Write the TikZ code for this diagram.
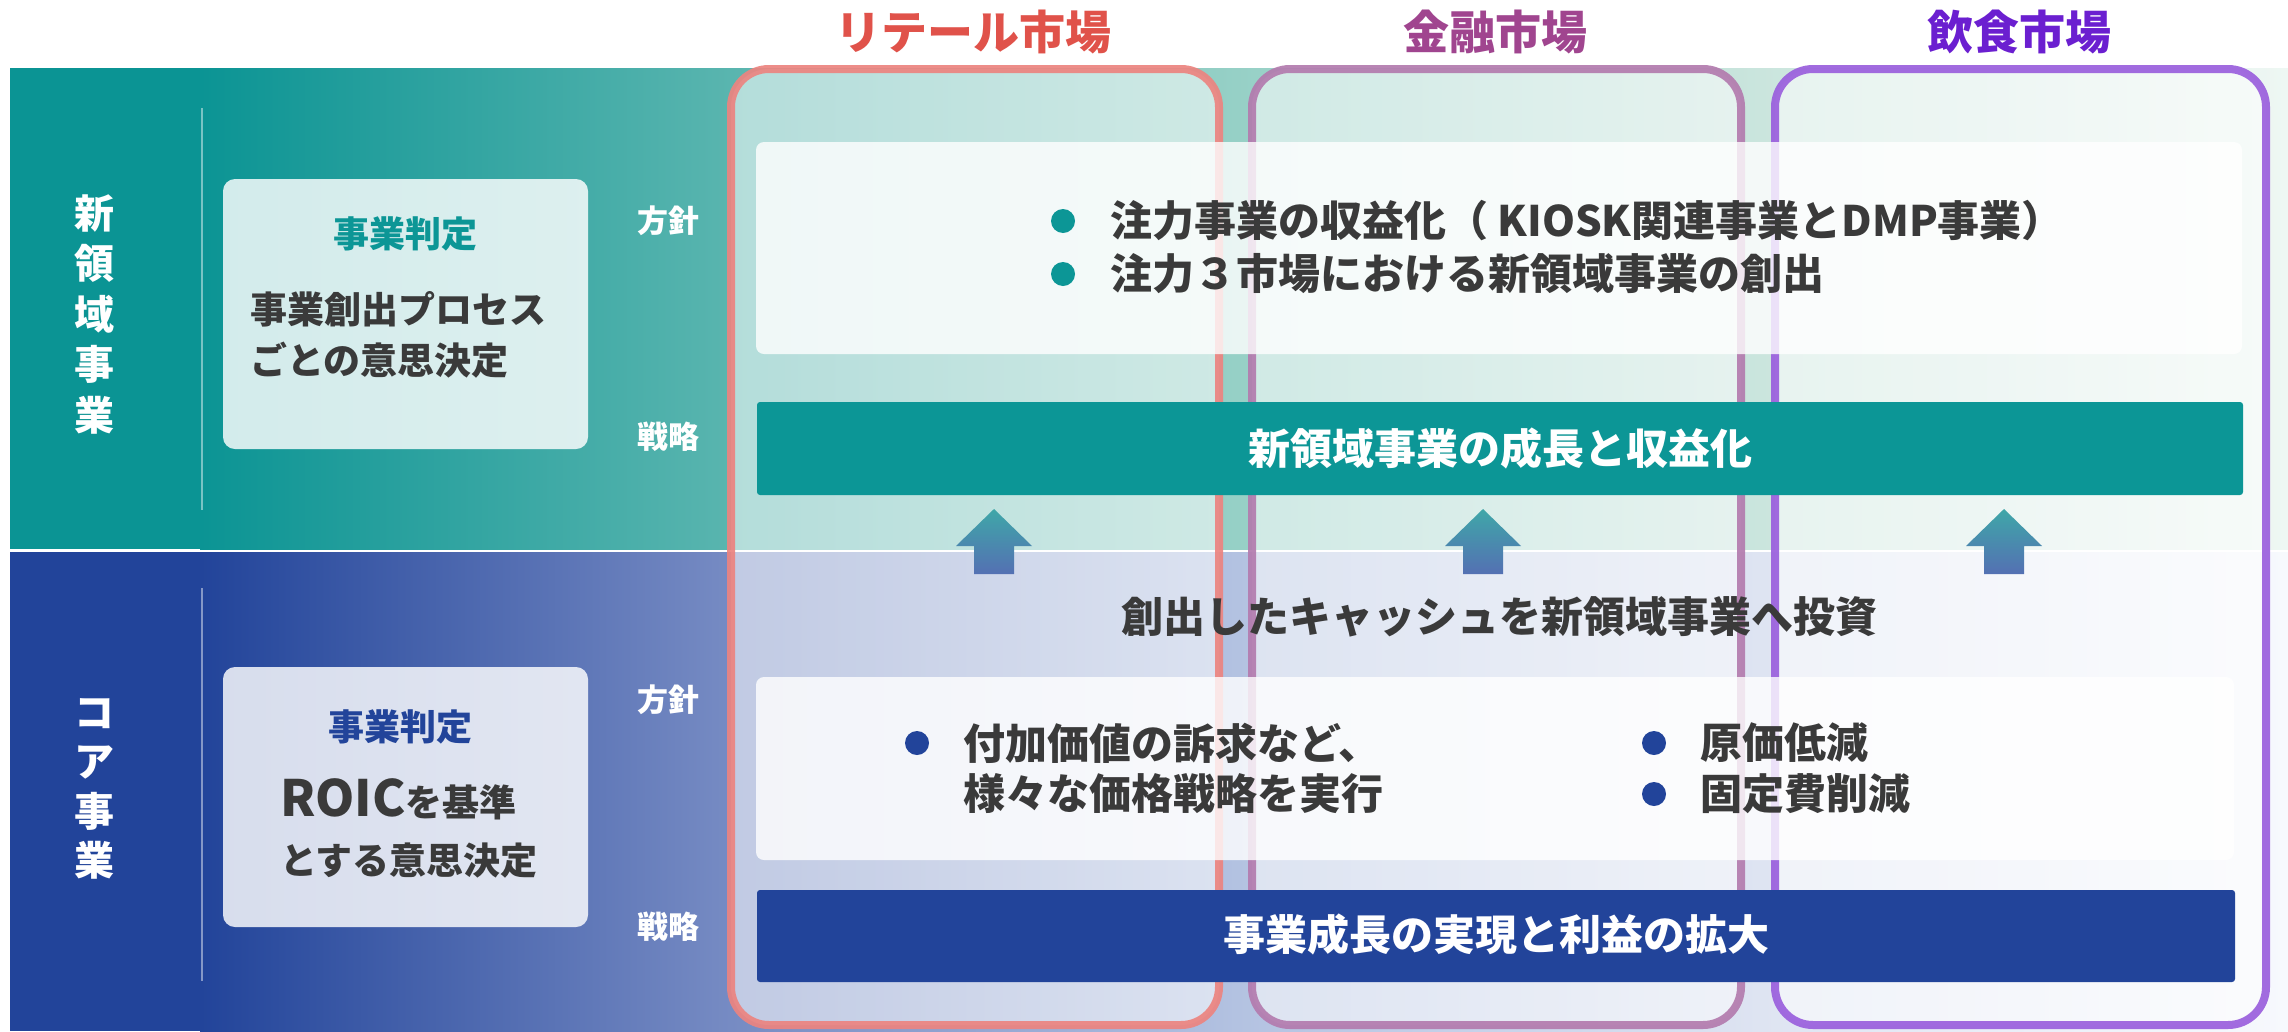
\documentclass[tikz,border=0pt]{standalone}
\usepackage{fontspec}
\setmainfont{Noto Sans CJK JP}
\definecolor{tA}{HTML}{0B9494}
\definecolor{tB}{HTML}{57B4AE}
\definecolor{tC}{HTML}{96D0C6}
\definecolor{tD}{HTML}{CAE5DD}
\definecolor{tE}{HTML}{EEF7F3}
\definecolor{bA}{HTML}{22449A}
\definecolor{bB}{HTML}{7489C2}
\definecolor{bC}{HTML}{B3C2E1}
\definecolor{bD}{HTML}{DEE4F2}
\definecolor{bE}{HTML}{F7F9FD}
\definecolor{tealbar}{HTML}{0C9696}
\definecolor{bluebar}{HTML}{22449A}
\definecolor{txt}{HTML}{3A3A3A}
\definecolor{retailT}{HTML}{E0524A}
\definecolor{retailF}{HTML}{EC8480}
\definecolor{finT}{HTML}{A0458F}
\definecolor{finF}{HTML}{B37BAE}
\definecolor{foodT}{HTML}{6B1FD0}
\definecolor{foodF}{HTML}{9A5FDD}
\definecolor{arrTop}{HTML}{3FA7A8}
\definecolor{arrBot}{HTML}{5470B3}
\newcommand\fsz[2]{\fontsize{#1}{#2}\selectfont}
\begin{document}
\begin{tikzpicture}[x=1pt,y=-1pt,
  every node/.style={inner sep=0pt, outer sep=0pt},
  vtext/.style={text=white, font=\bfseries\fsz{40}{50.5}, align=center},
  rowlabel/.style={text=white, font=\bfseries\fsz{31}{36}},
  decbox/.style={fill=white, fill opacity=0.82, rounded corners=12pt},
  divider/.style={draw=white, draw opacity=0.45, line width=2pt},
  dectitle/.style={font=\bfseries\fsz{36}{40}},
  dectext/.style={text=txt, font=\bfseries\fsz{37}{44}, anchor=west},
  market/.style={line width=8pt, fill=white, fill opacity=0.55, draw opacity=0.92, rounded corners=38pt},
  mtitle/.style={font=\bfseries\fsz{46}{50}},
  polbox/.style={fill=white, fill opacity=0.8, rounded corners=8pt},
  poltext/.style={text=txt, font=\bfseries\fsz{42}{50}, anchor=west},
  bartext/.style={text=white, font=\bfseries\fsz{42}{50}},
  bulletdot/.style={circle, minimum size=24pt},
  upblock/.style={top color=arrTop, bottom color=arrBot},
]
\useasboundingbox (0,0) rectangle (2288,1031);
\fill[white] (0,0) rectangle (2288,1031);
% ---- bands
\fill[tA] (10,68) rectangle (201,549);
\shade[left color=tA,right color=tB] (200,68) rectangle (715,549);
\shade[left color=tB,right color=tC] (714,68) rectangle (1236,549);
\shade[left color=tC,right color=tD] (1235,68) rectangle (1759,549);
\shade[left color=tD,right color=tE] (1758,68) rectangle (2288,549);
\fill[bA] (10,552) rectangle (201,1031);
\shade[left color=bA,right color=bB] (200,552) rectangle (715,1031);
\shade[left color=bB,right color=bC] (714,552) rectangle (1236,1031);
\shade[left color=bC,right color=bD] (1235,552) rectangle (1759,1031);
\shade[left color=bD,right color=bE] (1758,552) rectangle (2288,1031);
% ---- dividers
\coordinate (d1t) at (202,108); \coordinate (d1b) at (202,510);
\coordinate (d2t) at (202,588); \coordinate (d2b) at (202,981);
\draw[divider] (d1t) -- (d1b);
\draw[divider] (d2t) -- (d2b);
% ---- left labels
\node[vtext] (newbiz) at (94,314) {新\\領\\域\\事\\業};
\node[vtext, font=\bfseries\fsz{40}{49.5}] (corebiz) at (94,789) {コ\\ア\\事\\業};
% ---- decision boxes
\path[decbox] (223,179) rectangle (588,449);
\path[decbox] (223,667) rectangle (588,927);
\node[dectitle, text=tealbar] (dt1) at (405,234) {事業判定};
\node[dectext] (dl1) at (250,309) {事業創出プロセス};
\node[dectext] (dl2) at (250,360) {ごとの意思決定};
\node[dectitle, text=bluebar] (dt2) at (400,727) {事業判定};
\node[dectext] (dl3) at (280,799) {{\fsz{50}{50}ROIC}を基準};
\node[dectext] (dl4) at (280,861) {とする意思決定};
% ---- row labels
\node[rowlabel] (h1) at (668,221) {方針};
\node[rowlabel] (s1) at (668,437) {戦略};
\node[rowlabel] (h2) at (668,700) {方針};
\node[rowlabel] (s2) at (668,927) {戦略};
% ---- market frames
\draw[market, draw=retailF] (731,69) rectangle (1219,1025);
\draw[market, draw=finF] (1252,69) rectangle (1741,1025);
\draw[market, draw=foodF] (1775,69) rectangle (2266,1025);
\node[mtitle, text=retailT] (m1) at (973,32) {リテール市場};
\node[mtitle, text=finT] (m2) at (1495,32) {金融市場};
\node[mtitle, text=foodT] (m3) at (2019,32) {飲食市場};
% ---- policy boxes
\path[polbox] (756,142) rectangle (2242,354);
\path[polbox] (756,677) rectangle (2234,860);
% ---- bars
\fill[tealbar, rounded corners=3pt] (757,402) rectangle (2243,495);
\fill[bluebar, rounded corners=3pt] (757,890) rectangle (2235,982);
\node[bartext] (bar1) at (1500,448) {新領域事業の成長と収益化};
\node[bartext] (bar2) at (1496,934) {事業成長の実現と利益の拡大};
% ---- arrows
\coordinate (a1) at (994,509);
\coordinate (a2) at (1483,509);
\coordinate (a3) at (2004,509);
\foreach \a in {a1,a2,a3}
  \shade[upblock] (\a) -- ++(38,37) -- ++(-18,0) -- ++(0,28) -- ++(-40,0) -- ++(0,-28) -- ++(-18,0) -- cycle;
% ---- top policy text
\node[bulletdot, fill=tealbar] (b1) at (1063,221) {};
\node[bulletdot, fill=tealbar] (b2) at (1063,274) {};
\node[poltext] (p1) at (1110,221) {注力事業の収益化（ KIOSK関連事業とDMP事業）};
\node[poltext] (p2) at (1110,274) {注力３市場における新領域事業の創出};
% ---- investment text
\node[text=txt, font=\bfseries\fsz{42}{50}] (inv) at (1499,617) {創出したキャッシュを新領域事業へ投資};
% ---- core policy text
\node[bulletdot, fill=bluebar] (b3) at (917,743) {};
\node[poltext] (c1) at (963,743) {付加価値の訴求など、};
\node[poltext] (c2) at (963,794) {様々な価格戦略を実行};
\node[bulletdot, fill=bluebar] (b4) at (1654,743) {};
\node[bulletdot, fill=bluebar] (b5) at (1654,794) {};
\node[poltext] (c3) at (1700,743) {原価低減};
\node[poltext] (c4) at (1700,794) {固定費削減};
\end{tikzpicture}
\end{document}
